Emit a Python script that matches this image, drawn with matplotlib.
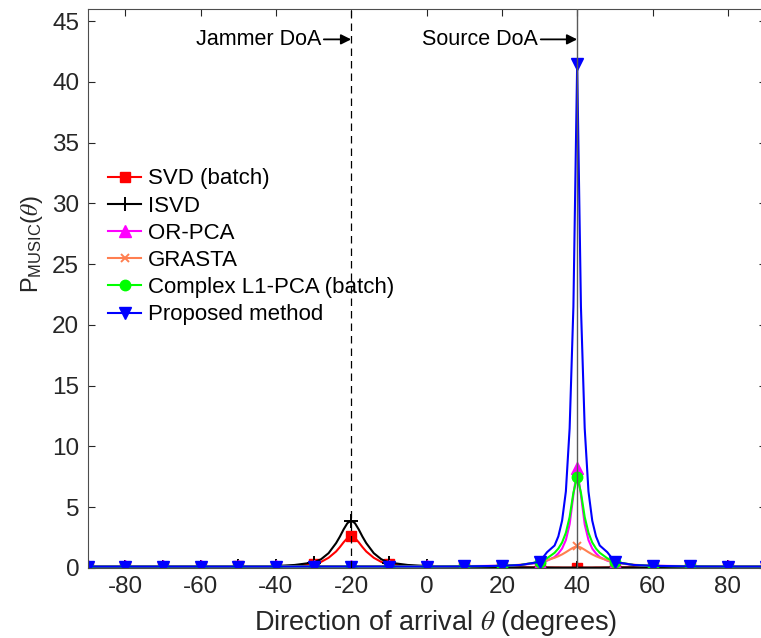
import matplotlib
matplotlib.use("Agg")
import matplotlib.pyplot as plt

plt.rcParams['font.family'] = ['Liberation Sans', 'DejaVu Sans']
plt.rcParams['mathtext.fontset'] = 'stix'
plt.rcParams['axes.unicode_minus'] = False

# angle grid (degrees), denser around the two peaks
theta = [-90, -80, -70, -60, -50,
         -40, -35, -30, -28, -26, -24, -23, -22, -21, -20, -19, -18, -17, -16, -14, -12, -10, -5, 0,
         10,
         20, 25, 30, 32, 34, 35, 36, 37, 38, 39, 40, 41, 42, 43, 44, 45, 46, 48, 50, 55, 60,
         70, 80, 90]

svd = [0.11, 0.11, 0.11, 0.12, 0.13,
       0.12, 0.18, 0.33, 0.5, 0.84, 1.36, 1.72, 2.12, 2.46, 2.6, 2.46, 2.12, 1.72, 1.36, 0.84, 0.5, 0.33, 0.18, 0.12,
       0.08,
       0.06, 0.05, 0.05, 0.04, 0.04, 0.04, 0.03, 0.03, 0.03, 0.03, 0.03, 0.03, 0.03, 0.03, 0.03, 0.04, 0.04, 0.04, 0.05, 0.05, 0.06,
       0.08, 0.09, 0.10]

isvd = [0.10, 0.10, 0.11, 0.12, 0.13,
        0.16, 0.25, 0.45, 0.72, 1.22, 2.05, 2.58, 3.18, 3.69, 3.9, 3.69, 3.18, 2.58, 2.05, 1.22, 0.72, 0.45, 0.25, 0.16,
        0.08,
        0.05, 0.05, 0.04, 0.04, 0.03, 0.03, 0.03, 0.03, 0.03, 0.03, 0.03, 0.03, 0.03, 0.03, 0.03, 0.03, 0.03, 0.04, 0.04, 0.05, 0.05,
        0.07, 0.08, 0.09]

orpca = [0.15, 0.15, 0.15, 0.15, 0.15,
         0.15, 0.15, 0.15, 0.15, 0.15, 0.15, 0.15, 0.15, 0.15, 0.15, 0.15, 0.15, 0.15, 0.15, 0.15, 0.15, 0.15, 0.15, 0.15,
         0.16,
         0.18, 0.25, 0.42, 0.6, 0.9, 1.2, 1.6, 2.3, 3.6, 6.0, 8.2, 6.0, 3.6, 2.3, 1.6, 1.2, 0.9, 0.6, 0.42, 0.25, 0.18,
         0.16, 0.15, 0.15]

grasta = [0.13, 0.13, 0.13, 0.13, 0.13,
          0.13, 0.13, 0.13, 0.13, 0.13, 0.13, 0.13, 0.13, 0.13, 0.13, 0.13, 0.13, 0.13, 0.13, 0.13, 0.13, 0.13, 0.13, 0.13,
          0.14,
          0.18, 0.27, 0.48, 0.64, 0.84, 0.97, 1.12, 1.3, 1.5, 1.68, 1.8, 1.68, 1.5, 1.3, 1.12, 0.97, 0.84, 0.64, 0.48, 0.27, 0.18,
          0.14, 0.13, 0.13]

l1pca = [0.12, 0.12, 0.12, 0.12, 0.12,
         0.12, 0.12, 0.12, 0.12, 0.12, 0.12, 0.12, 0.12, 0.12, 0.12, 0.12, 0.12, 0.12, 0.12, 0.12, 0.12, 0.12, 0.12, 0.12,
         0.13,
         0.17, 0.25, 0.5, 0.8, 1.25, 1.6, 2.1, 2.9, 4.2, 6.2, 7.5, 6.2, 4.2, 2.9, 2.1, 1.6, 1.25, 0.8, 0.5, 0.25, 0.17,
         0.13, 0.12, 0.12]

proposed = [0.12, 0.12, 0.12, 0.12, 0.12,
            0.12, 0.12, 0.12, 0.12, 0.12, 0.12, 0.12, 0.12, 0.12, 0.12, 0.12, 0.12, 0.12, 0.12, 0.12, 0.12, 0.12, 0.12, 0.12,
            0.13,
            0.18, 0.25, 0.5, 1.3, 1.85, 2.6, 3.9, 6.3, 11.5, 21.5, 41.5, 21.5, 11.5, 6.3, 3.9, 2.6, 1.85, 1.3, 0.5, 0.25, 0.18,
            0.13, 0.12, 0.12]

labels = ['SVD (batch)', 'ISVD', 'OR-PCA', 'GRASTA', 'Complex L1-PCA (batch)', 'Proposed method']
xticks = [-80, -60, -40, -20, 0, 20, 40, 60, 80]
yticks = [0, 5, 10, 15, 20, 25, 30, 35, 40, 45]
jammer_doa = -20
source_doa = 40

# markers only on the 10-degree grid
mk = [i for i, t in enumerate(theta) if t % 10 == 0]

fig = plt.figure(figsize=(7.61, 6.38), dpi=100)
ax = fig.add_axes([87.5 / 761, 70 / 638, 678 / 761, 559 / 638])

lw = 1.5
ax.plot(theta, svd, '-s', color='#ff0000', lw=lw, ms=6.5, markevery=mk, label=labels[0])
ax.plot(theta, isvd, '-+', color='black', lw=lw, ms=10, mew=1.4, markevery=mk, label=labels[1])
ax.plot(theta, orpca, '-^', color='#ff00ff', lw=lw, ms=8.5, markevery=mk, label=labels[2])
ax.plot(theta, grasta, '-x', color='#ff7f50', lw=lw, ms=5.5, mew=1.4, markevery=mk, label=labels[3])
ax.plot(theta, l1pca, '-o', color='#00ff00', lw=lw, ms=7.5, markevery=mk, label=labels[4])
ax.plot(theta, proposed, '-v', color='#0000ff', lw=lw, ms=8.5, markevery=mk, label=labels[5])

ax.axvline(jammer_doa, color='black', lw=0.9, ls=(0, (6, 4)), zorder=5)
ax.axvline(source_doa, color='0.35', lw=1.0, zorder=5)

for txt, xt, xd in [('Jammer DoA', -28.0, jammer_doa), ('Source DoA', 29.6, source_doa)]:
    ax.annotate(txt, xy=(xd, 43.5), xytext=(xt, 43.5), ha='right', va='center',
                fontsize=15.5, arrowprops=dict(arrowstyle='-|>', color='black', lw=1.3,
                                               mutation_scale=15, shrinkA=0, shrinkB=0))

ax.set_xlim(-90, 90)
ax.set_ylim(0, 46)
ax.set_xticks(xticks)
ax.set_xticklabels([str(v) for v in xticks])
ax.set_yticks(yticks)
ax.tick_params(direction='in', length=5, width=0.8, top=True, right=True,
               labelsize=17.5, colors='0.15', pad=6)
for s in ax.spines.values():
    s.set_color('0.3')
    s.set_linewidth(0.8)

ax.set_xlabel(r'Direction of arrival $\theta$ (degrees)', fontsize=19.5, color='0.15')
ax.xaxis.set_label_coords(0.513, -0.072)
ax.set_ylabel(r'$\mathregular{P_{MUSIC}(}\theta\mathregular{)}$', fontsize=17, color='0.15')
ax.yaxis.set_label_coords(-0.063, 0.58)

ax.legend(loc='upper left', bbox_to_anchor=(0.03, 0.715), frameon=False, fontsize=16,
          handlelength=1.5, handletextpad=0.3, labelspacing=0.28, borderpad=0, borderaxespad=0,
          numpoints=1)

fig.savefig('out.png', dpi=100)
